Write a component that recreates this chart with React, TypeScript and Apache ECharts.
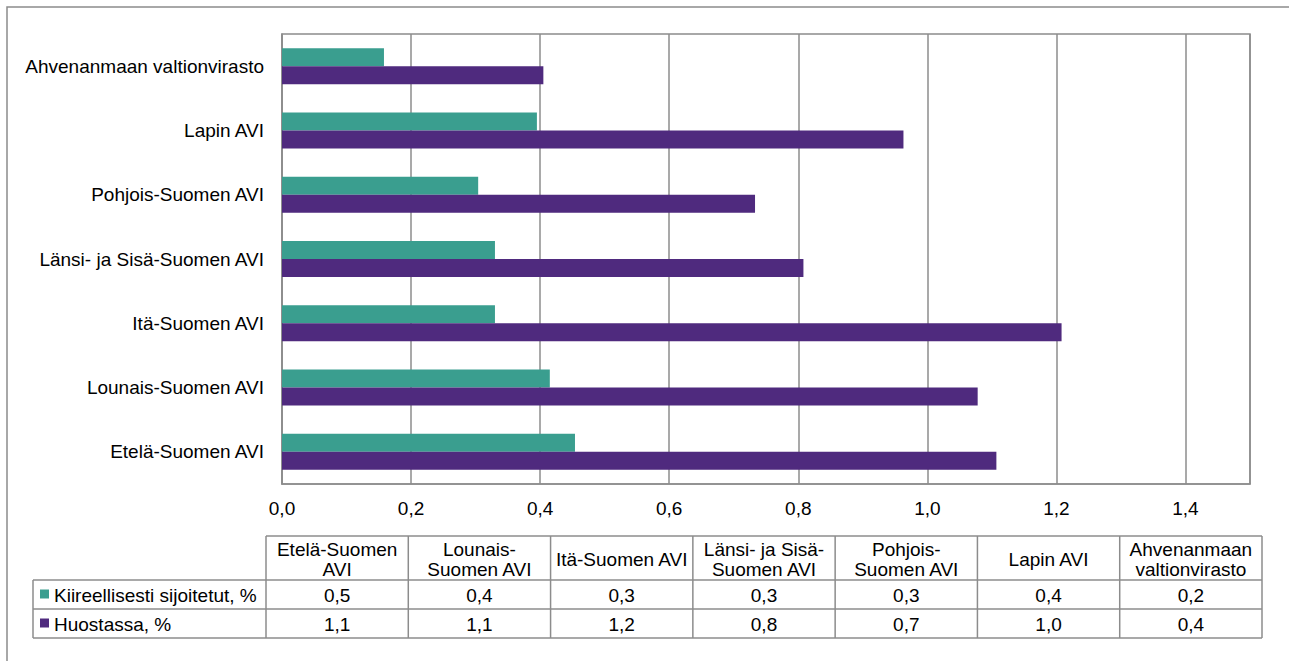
import React, { useEffect, useRef } from "react";
import * as echarts from "echarts";

// Categories, bottom to top on the chart
const categories = [
  "Etelä-Suomen AVI",
  "Lounais-Suomen AVI",
  "Itä-Suomen AVI",
  "Länsi- ja Sisä-Suomen AVI",
  "Pohjois-Suomen AVI",
  "Lapin AVI",
  "Ahvenanmaan valtionvirasto",
];
const tableHeaders = [
  "Etelä-Suomen\nAVI",
  "Lounais-\nSuomen AVI",
  "Itä-Suomen AVI",
  "Länsi- ja Sisä-\nSuomen AVI",
  "Pohjois-\nSuomen AVI",
  "Lapin AVI",
  "Ahvenanmaan\nvaltionvirasto",
];
const seriesNames = ["Kiireellisesti sijoitetut, %", "Huostassa, %"];
const kiireellisesti = [0.454, 0.415, 0.33, 0.33, 0.304, 0.395, 0.158];
const huostassa = [1.107, 1.078, 1.208, 0.808, 0.733, 0.963, 0.405];
const xMin = 0;
const xMax = 1.5;
const xInterval = 0.2;

const GREEN = "#3a9e8f";
const PURPLE = "#4f2a7e";
const LINE = "#8c8c8c";
const FONT = '"Liberation Sans", Arial, sans-serif';

const fmt = (v: number) => v.toFixed(1).replace(".", ",");

export default function App() {
  const ref = useRef<HTMLDivElement>(null);
  useEffect(() => {
    if (!ref.current) return;
    const chart = echarts.init(ref.current, undefined, { renderer: "svg" });

    // table layout
    const tLeft = 266;
    const tRight = 1262;
    const colW = (tRight - tLeft) / tableHeaders.length;
    const lblLeft = 33;
    const yHead = 536;
    const yR1 = 580;
    const yR2 = 609;
    const yR3 = 638;
    const lineStyle = { stroke: LINE, lineWidth: 1.5 };
    const g: any[] = [];
    // outer frame
    g.push({
      type: "rect",
      shape: { x: 7, y: 7, width: 1400, height: 800 },
      style: { fill: "none", stroke: LINE, lineWidth: 1.5 },
      silent: true,
    });
    const hl = (x1: number, x2: number, y: number) =>
      g.push({ type: "line", shape: { x1, y1: y, x2, y2: y }, style: lineStyle, silent: true });
    const vl = (x: number, y1: number, y2: number) =>
      g.push({ type: "line", shape: { x1: x, y1, x2: x, y2 }, style: lineStyle, silent: true });
    hl(tLeft, tRight, yHead);
    hl(lblLeft, tRight, yR1);
    hl(lblLeft, tRight, yR2);
    hl(lblLeft, tRight, yR3);
    vl(lblLeft, yR1, yR3);
    for (let i = 0; i <= tableHeaders.length; i++) vl(tLeft + i * colW, yHead, yR3);
    const rowsData = [kiireellisesti, huostassa];
    const colors = [GREEN, PURPLE];
    const rowMid = [(yR1 + yR2) / 2, (yR2 + yR3) / 2];
    tableHeaders.forEach((h, i) => {
      const cx = tLeft + (i + 0.5) * colW;
      g.push({
        type: "text",
        x: cx,
        y: (yHead + yR1) / 2 + 1,
        style: {
          text: h,
          font: `19px ${FONT}`,
          fill: "#000",
          align: "center",
          verticalAlign: "middle",
          lineHeight: 20,
        },
        silent: true,
      });
      rowsData.forEach((arr, r) => {
        g.push({
          type: "text",
          x: cx,
          y: rowMid[r] + 1,
          style: {
            text: fmt(arr[i]),
            font: `19px ${FONT}`,
            fill: "#000",
            align: "center",
            verticalAlign: "middle",
          },
          silent: true,
        });
      });
    });
    seriesNames.forEach((n, r) => {
      g.push({
        type: "rect",
        shape: { x: 40, y: rowMid[r] - 5, width: 9, height: 9 },
        style: { fill: colors[r] },
        silent: true,
      });
      g.push({
        type: "text",
        x: 54,
        y: rowMid[r] + 1,
        style: {
          text: n,
          font: `19px ${FONT}`,
          fill: "#000",
          align: "left",
          verticalAlign: "middle",
        },
        silent: true,
      });
    });

    chart.setOption({
      animation: false,
      backgroundColor: "#fff",
      grid: {
        left: 282,
        top: 34,
        width: 968,
        height: 450,
        show: true,
        borderColor: LINE,
        borderWidth: 1.5,
        containLabel: false,
      },
      xAxis: {
        type: "value",
        min: xMin,
        max: xMax,
        interval: xInterval,
        axisLine: { show: true, lineStyle: { color: LINE, width: 1.5 } },
        axisTick: { show: false },
        splitLine: { show: true, lineStyle: { color: LINE, width: 1.5 } },
        axisLabel: {
          formatter: (v: number) => fmt(v),
          showMaxLabel: false,
          margin: 15,
          color: "#000",
          fontSize: 19,
          fontFamily: FONT,
        },
      },
      yAxis: {
        type: "category",
        data: categories,
        axisLine: { show: true, lineStyle: { color: LINE, width: 1.5 } },
        axisTick: { show: false },
        axisLabel: {
          margin: 18,
          color: "#000",
          fontSize: 19,
          fontFamily: FONT,
        },
      },
      series: [
        {
          name: seriesNames[0],
          type: "bar",
          data: kiireellisesti,
          barWidth: 18,
          barGap: "0%",
          itemStyle: { color: GREEN },
        },
        {
          name: seriesNames[1],
          type: "bar",
          data: huostassa,
          barWidth: 18,
          barGap: "0%",
          itemStyle: { color: PURPLE },
        },
      ],
      graphic: g,
    });
    return () => chart.dispose();
  }, []);
  return (
    <div
      ref={ref}
      style={{ position: "absolute", left: 0, top: 0, width: 1289, height: 661 }}
    />
  );
}
